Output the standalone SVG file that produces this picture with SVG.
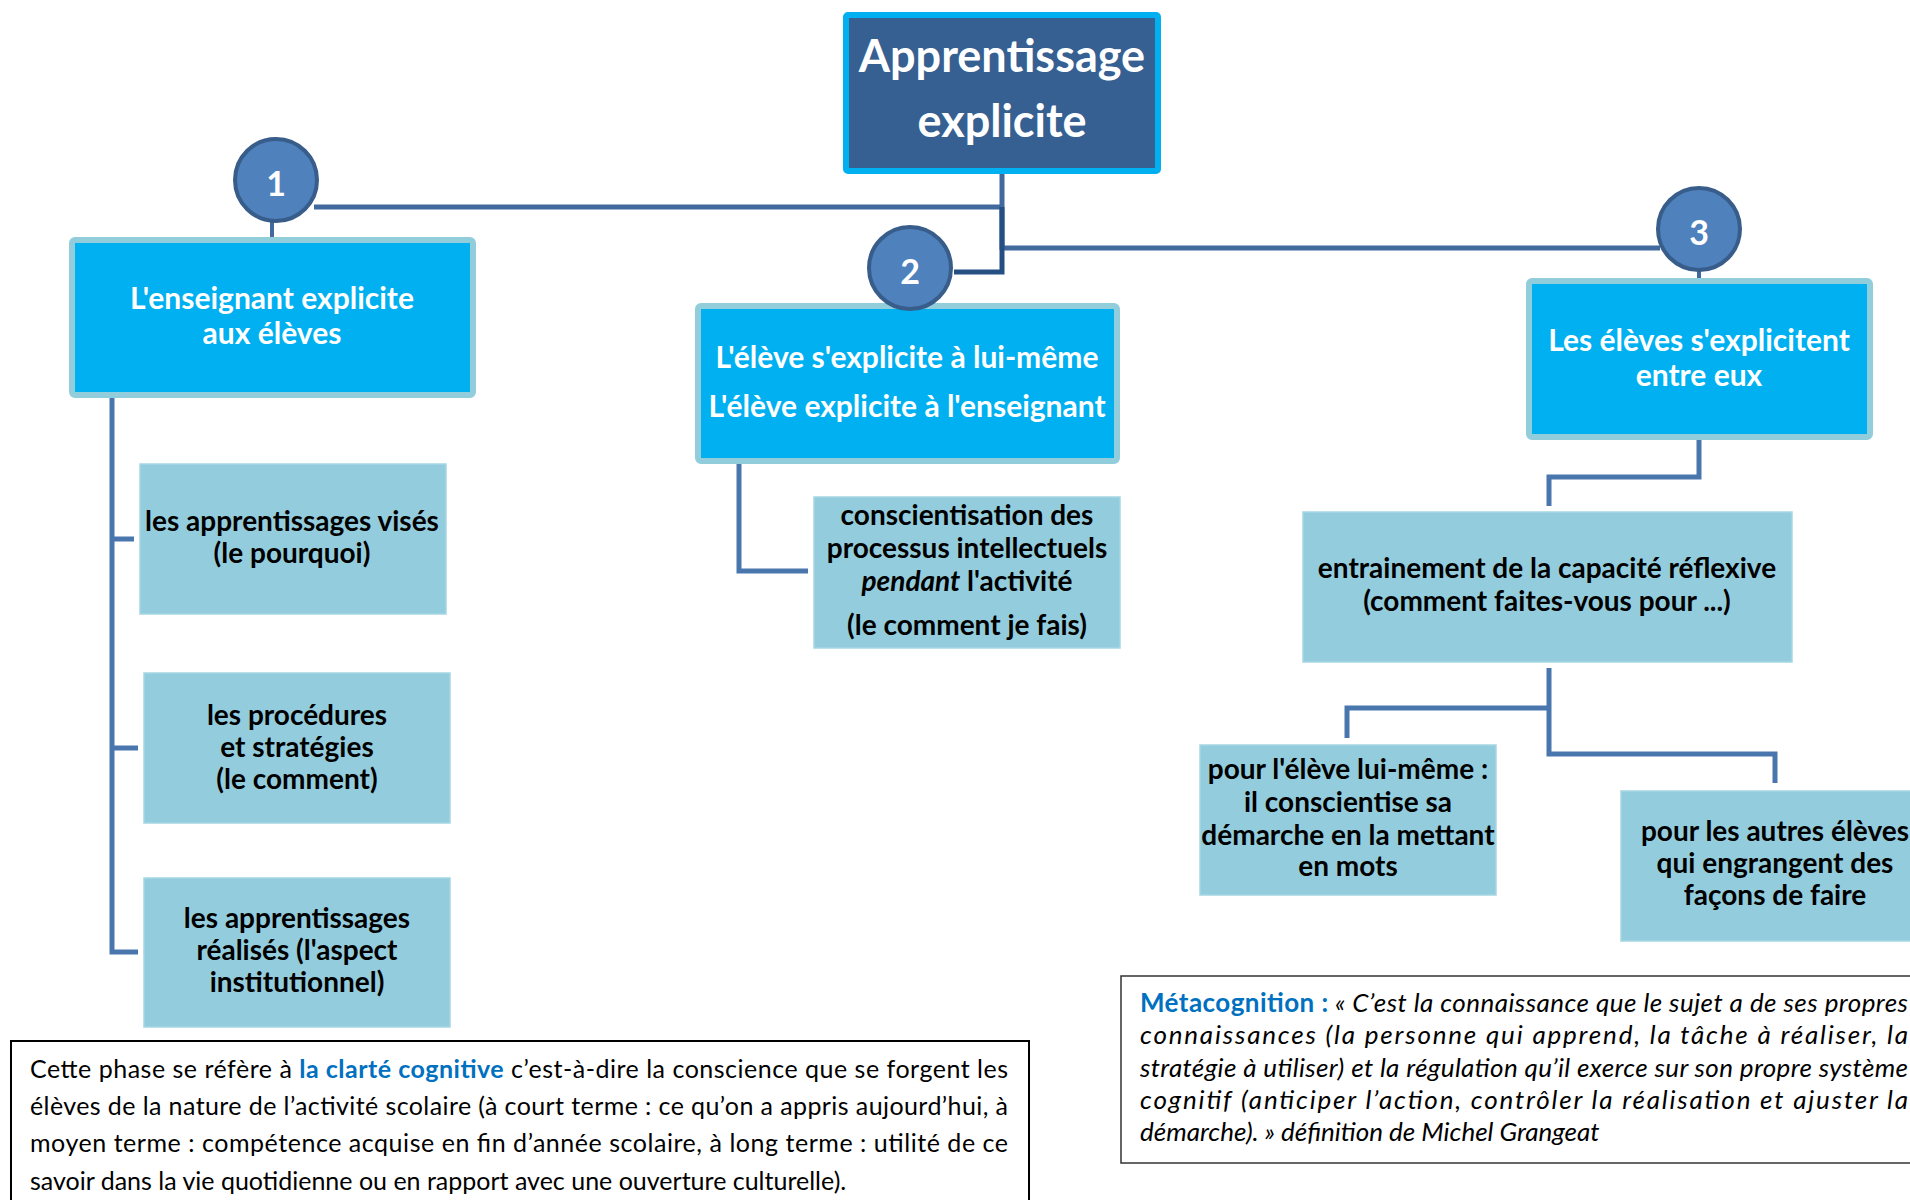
<svg xmlns="http://www.w3.org/2000/svg" width="1910" height="1200" viewBox="0 0 1910 1200">
<style>
text{font-family:Lato,"Open Sans","Liberation Sans",sans-serif;}
.t{font-weight:bold;font-size:30px;fill:#fff;text-anchor:middle;}
.b{font-weight:bold;font-size:28px;fill:#000;text-anchor:middle;}
.num{font-weight:bold;font-size:34px;fill:#fff;text-anchor:middle;}
.hb{fill:#00B0F0;stroke:#92CDDC;stroke-width:6;}
.lb{fill:#93CDDD;stroke:#A5D6E3;stroke-width:1.5;}
.circ{fill:#4F81BD;stroke:#385D8A;stroke-width:4;}
.ln{fill:none;stroke:#41699E;stroke-width:5;}
.lk{fill:none;stroke:#254E82;stroke-width:5;}
.lt{fill:none;stroke:#4A76AE;stroke-width:5;}
.p{font-size:25px;fill:#000;}
.pi{font-size:26px;fill:#000;font-style:italic;}
.blue{fill:#0070C0;font-weight:bold;font-style:normal;}
</style>
<g id="connectors">
<path class="ln" d="M1002 172V250"/>
<path class="ln" d="M1002 207H314"/>
<path class="ln" d="M1002 248H1660"/>
<path class="lk" d="M1002 207V272H954"/>
<path class="ln" d="M272 222V238" style="stroke-width:4"/>
<path class="ln" d="M1699 270V279" style="stroke-width:4"/>
<path class="lt" d="M112 398V952H138M112 539H134M112 748H138"/>
<path class="lt" d="M739 464V571H808"/>
<path class="lt" d="M1699 438V477H1549V506"/>
<path class="lt" d="M1549 668V754H1775V783M1549 708H1347V738"/>
</g>
<g id="root">
<rect x="846" y="15" width="312" height="156" fill="#366092" stroke="#00B0F0" stroke-width="6" rx="2"/>
<text x="1002" y="72" style="font-weight:bold;font-size:45px;fill:#fff;text-anchor:middle">Apprentissage</text>
<text x="1002" y="137" style="font-weight:bold;font-size:45px;fill:#fff;text-anchor:middle">explicite</text>
</g>
<g id="n1">
<rect class="hb" x="72" y="240" width="401" height="155" rx="3"/>
<text class="t" x="272" y="309">L'enseignant explicite</text>
<text class="t" x="272" y="344">aux élèves</text>
</g>
<g id="c1"><circle class="circ" cx="276" cy="180" r="41"/><text class="num" x="276" y="196">1</text></g>
<g id="n2">
<rect class="hb" x="698" y="306" width="419" height="155" rx="3"/>
<text class="t" x="907" y="368">L'élève s'explicite à lui-même</text>
<text class="t" x="907" y="417">L'élève explicite à l'enseignant</text>
</g>
<g id="c2"><circle class="circ" cx="910" cy="268" r="41"/><text class="num" x="910" y="284">2</text></g>
<g id="n3">
<rect class="hb" x="1529" y="281" width="341" height="156" rx="3"/>
<text class="t" x="1699" y="351">Les élèves s'explicitent</text>
<text class="t" x="1699" y="386">entre eux</text>
</g>
<g id="c3"><circle class="circ" cx="1699" cy="229" r="41"/><text class="num" x="1699" y="245">3</text></g>
<g id="a1">
<rect class="lb" x="140" y="464" width="306" height="150"/>
<text class="b" x="292" y="531">les apprentissages visés</text>
<text class="b" x="292" y="563">(le pourquoi)</text>
</g>
<g id="a2">
<rect class="lb" x="144" y="673" width="306" height="150"/>
<text class="b" x="297" y="725">les procédures</text>
<text class="b" x="297" y="757">et stratégies</text>
<text class="b" x="297" y="789">(le comment)</text>
</g>
<g id="a3">
<rect class="lb" x="144" y="878" width="306" height="149"/>
<text class="b" x="297" y="928">les apprentissages</text>
<text class="b" x="297" y="960">réalisés (l'aspect</text>
<text class="b" x="297" y="992">institutionnel)</text>
</g>
<g id="b1">
<rect class="lb" x="814" y="497" width="306" height="151"/>
<text class="b" x="967" y="525">conscientisation des</text>
<text class="b" x="967" y="558">processus intellectuels</text>
<text class="b" x="967" y="591"><tspan font-style="italic">pendant</tspan> l'activité</text>
<text class="b" x="967" y="635">(le comment je fais)</text>
</g>
<g id="b2">
<rect class="lb" x="1303" y="512" width="489" height="150"/>
<text class="b" x="1547" y="578">entrainement de la capacité réflexive</text>
<text class="b" x="1547" y="611">(comment faites-vous pour ...)</text>
</g>
<g id="d1">
<rect class="lb" x="1200" y="745" width="296" height="150"/>
<text class="b" x="1348" y="779">pour l'élève lui-même :</text>
<text class="b" x="1348" y="812">il conscientise sa</text>
<text class="b" x="1348" y="845">démarche en la mettant</text>
<text class="b" x="1348" y="876">en mots</text>
</g>
<g id="d2">
<rect class="lb" x="1621" y="791" width="308" height="150"/>
<text class="b" x="1775" y="841">pour les autres élèves</text>
<text class="b" x="1775" y="873">qui engrangent des</text>
<text class="b" x="1775" y="905">façons de faire</text>
</g>
<g id="note1">
<rect x="11" y="1041" width="1018" height="180" fill="none" stroke="#000" stroke-width="2"/>
<text class="p" x="30" y="1078" textLength="978" lengthAdjust="spacing">Cette phase se réfère à <tspan class="blue">la clarté cognitive</tspan> c’est-à-dire la conscience que se forgent les</text>
<text class="p" x="30" y="1115" textLength="978" lengthAdjust="spacing">élèves de la nature de l’activité scolaire (à court terme : ce qu’on a appris aujourd’hui, à</text>
<text class="p" x="30" y="1152" textLength="978" lengthAdjust="spacing">moyen terme : compétence acquise en fin d’année scolaire, à long terme : utilité de ce</text>
<text class="p" x="30" y="1190">savoir dans la vie quotidienne ou en rapport avec une ouverture culturelle).</text>
</g>
<g id="note2">
<rect x="1121" y="976" width="800" height="187" fill="none" stroke="#333" stroke-width="1.5"/>
<text class="pi" x="1140" y="1012" textLength="768" lengthAdjust="spacing"><tspan class="blue">Métacognition :</tspan> « C’est la connaissance que le sujet a de ses propres</text>
<text class="pi" x="1140" y="1044" textLength="768" lengthAdjust="spacing">connaissances (la personne qui apprend, la tâche à réaliser, la</text>
<text class="pi" x="1140" y="1077" textLength="768" lengthAdjust="spacing">stratégie à utiliser) et la régulation qu’il exerce sur son propre système</text>
<text class="pi" x="1140" y="1109" textLength="768" lengthAdjust="spacing">cognitif (anticiper l’action, contrôler la réalisation et ajuster la</text>
<text class="pi" x="1140" y="1141">démarche). » définition de Michel Grangeat</text>
</g>
</svg>
